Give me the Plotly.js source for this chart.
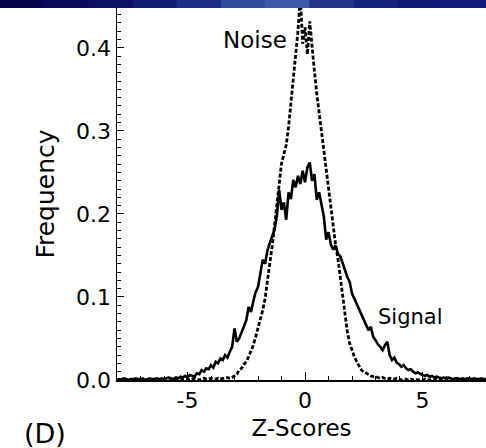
<!DOCTYPE html>
<html>
<head>
<meta charset="utf-8">
<script src="https://cdn.plot.ly/plotly-3.0.1.min.js"></script>
<style>
html,body{margin:0;padding:0;background:#fff;overflow:hidden;}
#chart{width:486px;height:448px;}
</style>
</head>
<body>
<div id="chart"></div>
<script>
// Z-score grid (step 0.1)
const zScores = [];
for (let i = 0; i < 158; i++) zScores.push(+(-8 + i * 0.1).toFixed(1));

// Signal frequency values
const signalFreq = [
  0.001,0.000,0.001,0.002,0.001,0.000,0.001,0.001,0.002,0.001,
  0.001,0.002,0.000,0.001,0.002,0.001,0.001,0.002,0.001,0.002,
  0.001,0.002,0.003,0.002,0.001,0.003,0.002,0.004,0.003,0.005,
  0.003,0.006,0.005,0.004,0.008,0.007,0.012,0.010,0.014,0.013,
  0.018,0.015,0.022,0.020,0.026,0.024,0.030,0.027,0.034,0.040,
  0.062,0.046,0.050,0.057,0.066,0.072,0.088,0.082,0.095,0.106,
  0.112,0.128,0.145,0.140,0.156,0.165,0.172,0.181,0.197,0.229,
  0.205,0.214,0.193,0.226,0.218,0.241,0.232,0.246,0.236,0.252,
  0.238,0.256,0.262,0.240,0.248,0.217,0.226,0.210,0.197,0.169,
  0.178,0.163,0.157,0.162,0.152,0.149,0.140,0.131,0.124,0.118,
  0.104,0.098,0.092,0.084,0.080,0.074,0.068,0.060,0.064,0.052,
  0.048,0.043,0.040,0.036,0.042,0.046,0.030,0.024,0.027,0.021,
  0.019,0.016,0.018,0.014,0.012,0.013,0.010,0.008,0.009,0.007,
  0.006,0.005,0.006,0.004,0.005,0.003,0.004,0.003,0.002,0.003,
  0.002,0.003,0.002,0.001,0.002,0.002,0.001,0.002,0.001,0.002,
  0.002,0.001,0.002,0.001,0.001,0.002,0.001,0.001
];

// Noise frequency values
const noiseFreq = [
  0.000,0.001,0.000,0.000,0.001,0.000,0.000,0.001,0.000,0.000,
  0.001,0.000,0.000,0.001,0.000,0.000,0.001,0.000,0.000,0.001,
  0.000,0.001,0.000,0.000,0.001,0.001,0.000,0.001,0.000,0.001,
  0.001,0.000,0.001,0.002,0.001,0.000,0.001,0.002,0.001,0.001,
  0.002,0.001,0.001,0.002,0.001,0.002,0.002,0.003,0.002,0.003,
  0.005,0.007,0.012,0.014,0.019,0.022,0.028,0.034,0.042,0.052,
  0.062,0.073,0.084,0.098,0.117,0.136,0.161,0.185,0.213,0.238,
  0.261,0.272,0.283,0.305,0.332,0.360,0.388,0.420,0.462,0.405,
  0.425,0.392,0.432,0.398,0.372,0.345,0.322,0.300,0.278,0.252,
  0.232,0.206,0.183,0.163,0.146,0.124,0.098,0.078,0.058,0.044,
  0.035,0.028,0.022,0.017,0.012,0.010,0.008,0.006,0.005,0.004,
  0.004,0.003,0.002,0.003,0.002,0.001,0.002,0.001,0.001,0.002,
  0.001,0.000,0.001,0.001,0.000,0.001,0.000,0.001,0.000,0.001,
  0.000,0.001,0.000,0.000,0.001,0.000,0.001,0.000,0.000,0.001,
  0.000,0.000,0.001,0.000,0.001,0.000,0.000,0.001,0.000,0.000,
  0.001,0.000,0.000,0.001,0.000,0.000,0.001,0.000
];

const xTickVals = [-5, 0, 5];
const xTickText = ["-5", "0", "5"];
const yTickVals = [0.0, 0.1, 0.2, 0.3, 0.4];
const yTickText = ["0.0", "0.1", "0.2", "0.3", "0.4"];

const FONT = "DejaVu Sans, Arial, sans-serif";

const traces = [
  {
    x: zScores, y: noiseFreq, type: "scatter", mode: "lines", name: "Noise",
    line: {color: "#000", width: 2.8, dash: "4px,2px"}
  },
  {
    x: zScores, y: signalFreq, type: "scatter", mode: "lines", name: "Signal",
    line: {color: "#000", width: 2.6}
  }
];

// top blue band approximated with stacked rects
const bandCols = ["#05054a","#08095a","#0c1166","#121c74","#1c2d86","#2f4c9e","#3a5aa8","#22378c","#16237c","#111a76","#131c7c"];
const bandShapes = bandCols.map((c, i) => ({
  type: "rect", xref: "paper", yref: "paper",
  x0: -117/369 + i * (486/369) / bandCols.length,
  x1: -117/369 + (i + 1) * (486/369) / bandCols.length + 0.002,
  y0: 1, y1: 1 + 9/372, fillcolor: c, line: {width: 0}, layer: "above"
}));

const layout = {
  width: 486, height: 448,
  margin: {l: 117, r: 0, t: 8, b: 68},
  paper_bgcolor: "#fff", plot_bgcolor: "#fff",
  showlegend: false,
  font: {family: FONT, color: "#000"},
  xaxis: {
    range: [-8, 7.7], showgrid: false, zeroline: false,
    showline: true, linecolor: "#000", linewidth: 1.5,
    tickmode: "array", tickvals: xTickVals, ticktext: xTickText,
    ticks: "inside", ticklen: 8, tickwidth: 1, tickcolor: "#000",
    minor: {dtick: 1, ticks: "inside", ticklen: 4, tickcolor: "#000", tickwidth: 1, showgrid: false},
    tickfont: {size: 22, family: FONT},
    title: {text: "Z-Scores", font: {size: 23, family: FONT}, standoff: 8}
  },
  yaxis: {
    range: [0, 0.448], showgrid: false, zeroline: false,
    showline: true, linecolor: "#000", linewidth: 1.5,
    tickmode: "array", tickvals: yTickVals, ticktext: yTickText,
    ticks: "inside", ticklen: 7, tickwidth: 1, tickcolor: "#000",
    minor: {dtick: 0.01, ticks: "inside", ticklen: 4, tickcolor: "#000", tickwidth: 1, showgrid: false},
    tickfont: {size: 22, family: FONT},
    title: {text: "Frequency", font: {size: 25, family: FONT}, standoff: 14}
  },
  shapes: bandShapes,
  annotations: [
    {x: -2.13, y: 0.41, xref: "x", yref: "y", text: "Noise", showarrow: false,
     font: {size: 23, family: FONT}},
    {x: 4.47, y: 0.076, xref: "x", yref: "y", text: "Signal", showarrow: false,
     font: {size: 21, family: FONT}},
    {x: (45 - 117) / 369, y: (380 - 433) / 372, xref: "paper", yref: "paper",
     xanchor: "center", yanchor: "middle", text: "(D)", showarrow: false,
     font: {size: 27, family: FONT}}
  ]
};

Plotly.newPlot("chart", traces, layout, {displayModeBar: false, staticPlot: true});
</script>
</body>
</html>
